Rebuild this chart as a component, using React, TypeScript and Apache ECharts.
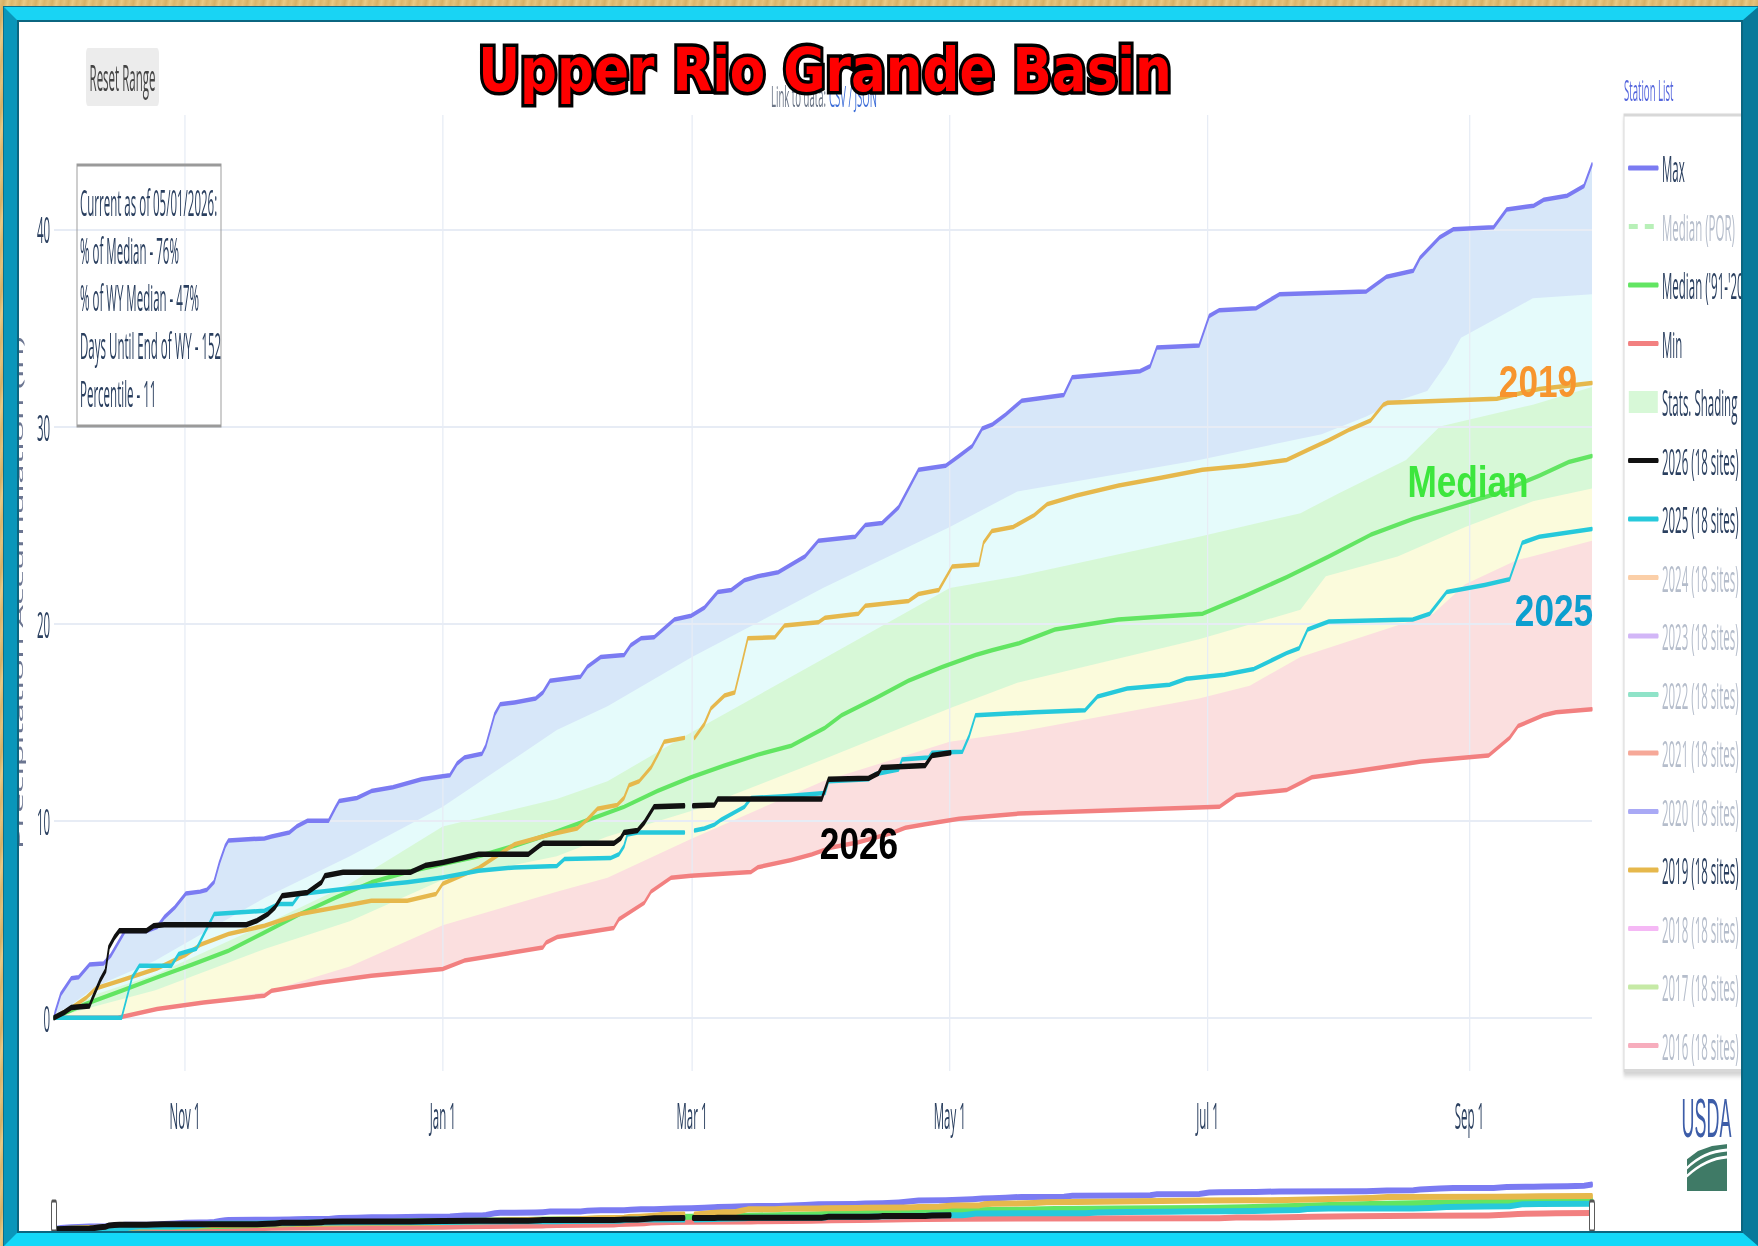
import React, { useEffect, useRef } from 'react';
import * as echarts from 'echarts';

// ---- page geometry (the reference is a vertically stretched Plotly chart:
// we draw the chart wide and squeeze it horizontally) ----
const PAGE_W = 1758;
const PAGE_H = 1246;
const INNER_W = 5494;
const SX = PAGE_W / INNER_W;
const ix = (f: number) => f / SX;

const PLOT_L = 54, PLOT_R = 1592, PLOT_T = 115, PLOT_B = 1071;
const NAV_T = 1182, NAV_B = 1232;
const Y_MIN = -2.7, Y_MAX = 45.8;
const X_MAX = 364;

// ---- axes ----
const MONTH_TICKS = [31, 92, 151, 212, 273, 335];
const MONTH_LABELS = ['Nov 1', 'Jan 1', 'Mar 1', 'May 1', 'Jul 1', 'Sep 1'];
const Y_TICKS = [0, 10, 20, 30, 40];

const INFO_LINES = [
  'Current as of 05/01/2026:',
  '% of Median - 76%',
  '% of WY Median - 47%',
  'Days Until End of WY - 152',
  'Percentile - 11',
];

// ---- data: [day of water year (0 = Oct 1), inches] ----
const MAX_PTS = [
  [0, 0], [0.3, 0.3], [1.6, 1.2], [4.1, 2.0], [5.8, 2.05], [8.4, 2.7], [11.7, 2.75], [13.4, 3.15],
  [16.8, 4.4], [21.9, 4.4], [24.4, 4.6], [26.1, 5.1], [28.6, 5.6], [31.2, 6.3], [34.6, 6.4], [36.2, 6.5],
  [37.9, 6.9], [39.2, 7.9], [40.5, 8.7], [41.3, 9.0], [49.8, 9.1], [51.5, 9.2], [55.7, 9.4], [57.4, 9.7],
  [60, 10.0], [65, 10.0], [66.7, 10.7], [67.5, 11.0], [71.7, 11.15], [75.1, 11.5], [80.2, 11.7], [83.6, 11.9],
  [87, 12.1], [93.7, 12.3], [95.4, 12.9], [97.1, 13.2], [101.3, 13.4], [102.2, 13.8], [104.3, 15.4],
  [105.6, 15.9], [109, 16.0], [114, 16.2], [115.7, 16.5], [117.4, 17.1], [124.6, 17.3], [126.2, 17.8],
  [129.4, 18.3], [134.9, 18.4], [136.5, 18.9], [138.9, 19.25], [142, 19.3], [146.8, 20.2], [150.8, 20.4],
  [153.9, 20.8], [156.3, 21.4], [157.1, 21.6], [160.3, 21.7], [163.4, 22.2], [166.6, 22.4], [171.4, 22.6],
  [177.7, 23.4], [180.9, 24.2], [189.6, 24.4], [192, 25.0], [196, 25.1], [199.9, 25.9], [204.6, 27.8],
  [211, 28.0], [214.2, 28.5], [217.3, 29.0], [219.7, 29.9], [222.1, 30.1], [225.2, 30.6], [229, 31.3],
  [239, 31.6], [241, 32.5], [257, 32.8], [259.4, 33.05], [261, 34.0], [271, 34.1], [273.4, 35.6],
  [275.8, 35.9], [284.5, 36.0], [290, 36.7], [310.6, 36.85], [315.4, 37.6], [321.7, 37.9], [323.3, 38.55],
  [328, 39.6], [331.2, 40.0], [340.7, 40.1], [343.8, 41.0], [350.2, 41.2], [352.6, 41.5], [358.1, 41.7],
  [362.1, 42.2], [364, 43.3],
];

const MIN_PTS = [
  [0, 0], [15.1, 0.0], [24.4, 0.44], [35.4, 0.78], [49.8, 1.12], [51.5, 1.37], [63.3, 1.79], [75.1, 2.13],
  [92, 2.47], [97.1, 2.9], [115.7, 3.57], [116.5, 3.82], [119.1, 4.1], [132.5, 4.56], [133.7, 5.0],
  [139.7, 5.83], [141.3, 6.4], [146, 7.1], [150.8, 7.2], [165, 7.4], [166.6, 7.64], [174.5, 8.0],
  [179.3, 8.28], [184, 8.64], [190.4, 8.9], [198.3, 9.37], [201.5, 9.64], [206.2, 9.82], [214.2, 10.1],
  [228.4, 10.36], [275.8, 10.7], [279.8, 11.3], [291.7, 11.55], [297.7, 12.2], [307.7, 12.5], [323.6, 13.0],
  [339.5, 13.3], [344.5, 14.2], [346.5, 14.8], [352.5, 15.35], [355.5, 15.5], [364, 15.65],
];

const MEDIAN_PTS = [
  [0, 0], [7.5, 0.7], [16, 1.37], [24.4, 2.05], [32.9, 2.72], [41.3, 3.4], [49.8, 4.33], [58.2, 5.26],
  [66.7, 6.1], [75.1, 6.87], [83.6, 7.4], [92, 7.8], [100.5, 8.2], [109, 8.73], [117.4, 9.32], [125.9, 10.0],
  [134.9, 10.7], [142.8, 11.5], [150.8, 12.2], [158.7, 12.8], [166.6, 13.35], [174.5, 13.8], [182.4, 14.7],
  [186.4, 15.35], [194.3, 16.2], [202.2, 17.1], [210.2, 17.8], [218.1, 18.4], [222, 18.65], [228.4, 19.0],
  [236.9, 19.7], [251.9, 20.2], [271.8, 20.5], [281.8, 21.4], [291.7, 22.35], [301.7, 23.4], [311.6, 24.5],
  [321.6, 25.3], [331.5, 25.95], [341.5, 26.6], [351.5, 27.5], [358.5, 28.2], [364, 28.5],
];

const P90_PTS = [
  [0, 0], [10, 1.6], [24, 2.9], [50, 6.1], [70, 8.2], [92, 10.7], [119, 14.6], [131, 15.8], [151, 18.3],
  [182, 21.8], [212, 24.9], [228, 26.7], [271, 28.3], [300, 29.6], [310.6, 30.5], [318, 31.3],
  [325, 31.8], [329.6, 33.2], [333, 34.5], [340.7, 35.4], [350, 36.5], [364, 36.7],
];

const P70_PTS = [
  [0, 0], [10, 1.2], [24, 2.2], [50, 4.75], [70, 6.8], [92, 9.7], [119, 11.1], [131, 12.0], [151, 14.5],
  [182, 18.2], [212, 21.8], [228, 22.4], [271, 24.4], [295, 25.6], [304, 26.6], [320, 28.3], [328, 30.0],
  [350, 31.1], [364, 32.0],
];

const P30_PTS = [
  [0, 0], [10, 0.6], [24, 1.4], [50, 3.5], [70, 4.9], [92, 7.0], [119, 8.2], [131, 9.2], [151, 10.5],
  [182, 13.1], [212, 15.7], [228, 17.0], [271, 19.2], [295, 20.7], [301, 22.4], [318, 23.4], [334, 24.9],
  [350, 26.2], [364, 26.85],
];

const P10_PTS = [
  [0, 0], [16, 0], [24, 0.5], [50, 1.3], [70, 2.6], [92, 4.7], [119, 6.4], [131, 7.1], [151, 9.1],
  [182, 12.0], [212, 14.0], [228, 14.5], [271, 16.2], [283, 16.85], [295, 18.3], [310.6, 19.4],
  [326.4, 20.5], [334, 22.0], [346, 23.2], [364, 24.2],
];

const Y2019_PTS = [
  [0, 0], [4.1, 0.5], [7.5, 1.0], [10, 1.5], [16, 1.9], [24.4, 2.5], [31.2, 3.2], [34.6, 3.7], [41.3, 4.25],
  [49.8, 4.67], [58.2, 5.26], [66.7, 5.6], [75.1, 5.94], [83.6, 5.94], [90.4, 6.28], [92, 6.8], [100.5, 7.6],
  [109, 8.8], [117.4, 9.3], [123.8, 9.6], [126.2, 10.05], [128.6, 10.6], [133.3, 10.8], [134.9, 11.15],
  [136.1, 11.8], [138.5, 12.0], [141.3, 12.7], [142.8, 13.3], [144.4, 14.0], [149.2, 14.2], [150.4, null],
  [151.6, 14.2], [153.9, 14.9], [155.5, 15.7], [158.7, 16.35], [161.1, 16.5], [162.6, 17.8], [164.2, 19.25],
  [170.6, 19.3], [172.9, 19.9], [180.9, 20.06], [182.5, 20.3], [190.4, 20.5], [192, 20.9], [202.3, 21.15],
  [204.6, 21.5], [209.4, 21.7], [212.6, 22.9], [218.9, 23.0], [220, 24.1], [222, 24.7], [227, 24.9],
  [232, 25.5], [235, 26.05], [242, 26.5], [252, 27.0], [262, 27.4], [271.8, 27.8], [281.8, 28.0],
  [291.7, 28.3], [296.7, 28.8], [301.7, 29.3], [306.7, 29.85], [311.6, 30.3], [314.6, 31.1], [315.6, 31.2],
  [341.5, 31.4], [351.5, 31.9], [364, 32.2],
];

const Y2025_PTS = [
  [0, 0], [16, 0], [18.5, 2.05], [20.2, 2.64], [27.8, 2.64], [29.5, 3.23], [33.7, 3.5], [37.9, 5.26],
  [49.8, 5.43], [53.2, 5.77], [56.5, 5.77], [58.2, 6.28], [65, 6.45], [75.1, 6.7], [83.6, 6.87], [92, 7.12],
  [100.5, 7.46], [109, 7.63], [119, 7.7], [120.8, 8.05], [131.7, 8.1], [133.7, 8.3], [134.9, 8.7],
  [135.7, 9.3], [138.1, 9.4], [149.2, 9.4], [150.4, null], [151.6, 9.5], [153.9, 9.6], [156.3, 9.8],
  [157.9, 10.05], [163.4, 10.7], [165, 11.15], [172.9, 11.24], [182.5, 11.4], [183.3, 12.0], [192.8, 12.1],
  [194.3, 12.35], [199.9, 12.6], [200.7, 13.1], [207, 13.2], [207.8, 13.45], [215, 13.5], [216.6, 14.3],
  [218.1, 15.35], [232, 15.5], [244, 15.6], [247, 16.3], [254, 16.7], [264, 16.9], [268, 17.2], [277, 17.4],
  [284, 17.7], [291.7, 18.5], [294.7, 18.75], [296.7, 19.7], [301.7, 20.1], [321.6, 20.2], [325.6, 20.5],
  [329.6, 21.6], [338.6, 21.95], [344.5, 22.25], [347.5, 24.1], [351.5, 24.4], [364, 24.8],
];

const Y2026_PTS = [
  [0, 0], [2.4, 0.27], [4.1, 0.52], [8.4, 0.6], [9.2, 1.03], [10.9, 1.88], [12.2, 2.39], [13, 3.57],
  [14.3, 4.08], [15.5, 4.42], [21.9, 4.42], [23.6, 4.67], [26.1, 4.72], [45.5, 4.72], [48, 4.92],
  [50.6, 5.26], [52.3, 5.6], [54, 6.19], [60, 6.36], [63.3, 6.87], [64.1, 7.2], [68.4, 7.38], [84.4, 7.38],
  [87.8, 7.72], [92, 7.88], [100.5, 8.3], [112.3, 8.3], [114.9, 8.73], [115.7, 8.85], [132.5, 8.85],
  [134.1, 9.1], [134.9, 9.4], [138.1, 9.5], [139.7, 9.9], [142, 10.7], [149.2, 10.76], [150.4, null],
  [151.2, 10.76], [156.3, 10.8], [157.1, 11.1], [181.7, 11.1], [183.3, 12.1], [192.8, 12.15], [195.1, 12.4],
  [195.9, 12.7], [206.2, 12.8], [207.8, 13.3], [212.2, 13.45],
];

// ---- colours ----
const GRID_COLOR = '#e7ecf5';
const FONT = "'Open Sans', 'DejaVu Sans', sans-serif";
const TEXT_COLOR = '#2a3f5f';
const FADED_TEXT = '#b5bdcb';

const C_MAX = '#7b7bf2';
const C_MED = '#62e562';
const C_MIN = '#f28080';
const C_2026 = '#111111';
const C_2025 = '#26c9db';
const C_2019 = '#e6b84c';

const BAND_BLUE = '#d7e7f9';
const BAND_CYAN = '#e5fbfb';
const BAND_GREEN = '#d7f8d7';
const BAND_YELLOW = '#fbfbdc';
const BAND_PINK = '#fbdfdf';

const FADED_SERIES = [
  { name: '2024 (18 sites)', color: '#fbcfa8' },
  { name: '2023 (18 sites)', color: '#d2b6f7' },
  { name: '2022 (18 sites)', color: '#8fe3c8' },
  { name: '2021 (18 sites)', color: '#f6a898' },
  { name: '2020 (18 sites)', color: '#a9a9f5' },
  { name: '2018 (18 sites)', color: '#f5b8f5' },
  { name: '2017 (18 sites)', color: '#c6eaa6' },
  { name: '2016 (18 sites)', color: '#f7adbd' },
];

const WOOD =
  'repeating-linear-gradient(100deg, #e2c07a 0px, #d6b066 4px, #e9ca86 8px, #dbb56c 12px, #e4c37e 16px)';

function area(name: string, data: any[], color: string, extra: any = {}) {
  return {
    name,
    type: 'line',
    data,
    xAxisIndex: 0,
    yAxisIndex: 0,
    symbol: 'none',
    showSymbol: false,
    silent: true,
    z: 1,
    color,
    lineStyle: { width: 0, color },
    areaStyle: { color, opacity: 1 },
    emphasis: { disabled: true },
    ...extra,
  };
}

function line(name: string, data: any[], color: string, width: number, nav = false, extra: any = {}) {
  return {
    name,
    type: 'line',
    data,
    xAxisIndex: nav ? 1 : 0,
    yAxisIndex: nav ? 1 : 0,
    symbol: 'none',
    showSymbol: false,
    silent: true,
    connectNulls: false,
    z: 3,
    color,
    lineStyle: { color, width, join: 'round', cap: 'round' },
    emphasis: { disabled: true },
    ...extra,
  };
}

function bigLabel(text: string, cx: number, cy: number, color: string) {
  return {
    type: 'text',
    x: ix(cx),
    y: cy,
    scaleX: 0.8 / SX,
    z: 60,
    silent: true,
    style: {
      text,
      fontFamily: "'Liberation Sans', Arial, sans-serif",
      fontWeight: 'bold',
      fontSize: 44,
      fill: color,
      textAlign: 'center',
      textVerticalAlign: 'middle',
    },
  };
}

function buildOption() {
  const gridMarks = [
    ...Y_TICKS.map((v) => ({ yAxis: v, lineStyle: { color: GRID_COLOR, width: 2, type: 'solid' } })),
    ...MONTH_TICKS.map((d) => ({ xAxis: d, lineStyle: { color: GRID_COLOR, width: 4, type: 'solid' } })),
  ];

  const series: any[] = [
    area('_band_max', MAX_PTS, BAND_BLUE),
    area('_band_p90', P90_PTS, BAND_CYAN),
    area('Stats. Shading', P70_PTS, BAND_GREEN),
    area('_band_p30', P30_PTS, BAND_YELLOW),
    area('_band_p10', P10_PTS, BAND_PINK),
    area('_band_min', MIN_PTS, '#ffffff', {
      markLine: {
        z: 1.5,
        silent: true,
        symbol: ['none', 'none'],
        label: { show: false },
        emphasis: { disabled: true },
        data: gridMarks,
      },
    }),
    line('Max', MAX_PTS, C_MAX, 4.5),
    line('Median (POR)', [], '#b8f0b8', 4, false, { lineStyle: { color: '#b8f0b8', width: 4, type: [28, 22] } }),
    line("Median ('91-'20)", MEDIAN_PTS, C_MED, 4.5),
    line('Min', MIN_PTS, C_MIN, 4.5),
    line('2019 (18 sites)', Y2019_PTS, C_2019, 4.5),
    line('2025 (18 sites)', Y2025_PTS, C_2025, 4.5),
    line('2026 (18 sites)', Y2026_PTS, C_2026, 5.5),
    ...FADED_SERIES.map((f) => line(f.name, [], f.color, 4)),
    // range-slider thumbnail
    line('Max', MAX_PTS, C_MAX, 6, true),
    line('Min', MIN_PTS, C_MIN, 6, true),
    line("Median ('91-'20)", MEDIAN_PTS, C_MED, 6, true),
    line('2019 (18 sites)', Y2019_PTS, C_2019, 6, true),
    line('2025 (18 sites)', Y2025_PTS, C_2025, 6, true),
    line('2026 (18 sites)', Y2026_PTS, C_2026, 6, true),
  ];

  const legendData: any[] = [
    { name: 'Max' },
    { name: 'Median (POR)', textStyle: { color: FADED_TEXT } },
    { name: "Median ('91-'20)" },
    { name: 'Min' },
    { name: 'Stats. Shading', icon: 'rect', itemStyle: { color: BAND_GREEN, opacity: 1 } },
    { name: '2026 (18 sites)' },
    { name: '2025 (18 sites)' },
    ...FADED_SERIES.slice(0, 5).map((f) => ({ name: f.name, textStyle: { color: FADED_TEXT } })),
    { name: '2019 (18 sites)' },
    ...FADED_SERIES.slice(5).map((f) => ({ name: f.name, textStyle: { color: FADED_TEXT } })),
  ];

  const labelFont = { fontFamily: FONT, fontSize: 36, color: TEXT_COLOR };

  const graphics: any[] = [
    // Reset Range button
    {
      type: 'rect', z: 50, silent: true,
      shape: { x: ix(86), y: 48, width: 73 / SX, height: 58, r: 6 },
      style: { fill: '#ececec' },
    },
    {
      type: 'text', z: 51, silent: true, x: ix(122.5), y: 77,
      style: { text: 'Reset Range', fontFamily: FONT, fontSize: 36, fill: '#444', textAlign: 'center', textVerticalAlign: 'middle' },
    },
    // info box
    {
      type: 'rect', z: 50, silent: true,
      shape: { x: ix(77), y: 165, width: 144 / SX, height: 261 },
      style: { fill: 'rgba(255,255,255,0)', stroke: '#9a9a9a', lineWidth: 3 },
    },
    ...INFO_LINES.map((t, i) => ({
      type: 'text', z: 51, silent: true, x: ix(80), y: 202 + i * 47.6,
      style: { text: t, fontFamily: FONT, fontSize: 36, fill: TEXT_COLOR, textAlign: 'left', textVerticalAlign: 'middle' },
    })),
    // link to data
    {
      type: 'text', z: 40, silent: true, x: ix(771), y: 96,
      style: { text: 'Link to data:', fontFamily: FONT, fontSize: 30, fill: '#6d7788', textAlign: 'left', textVerticalAlign: 'middle' },
    },
    {
      type: 'text', z: 40, silent: true, x: ix(829), y: 96,
      style: { text: 'CSV / JSON', fontFamily: FONT, fontSize: 30, fill: '#3f6fd8', textAlign: 'left', textVerticalAlign: 'middle' },
    },
    // station list
    {
      type: 'text', z: 40, silent: true, x: ix(1624), y: 90,
      style: { text: 'Station List', fontFamily: FONT, fontSize: 30, fill: '#5566dd', textAlign: 'left', textVerticalAlign: 'middle' },
    },
    // title: black outline behind, red on top
    {
      type: 'text', z: 70, silent: true, x: ix(825), y: 70, scaleX: 0.86 / SX,
      style: {
        text: 'Upper Rio Grande Basin', fontFamily: "'DejaVu Sans', sans-serif", fontWeight: 'bold', fontSize: 60,
        fill: '#000', stroke: '#000', lineWidth: 7, textAlign: 'center', textVerticalAlign: 'middle',
        shadowBlur: 8, shadowColor: 'rgba(0,0,0,0.6)', shadowOffsetX: 1, shadowOffsetY: 2,
      },
    },
    {
      type: 'text', z: 71, silent: true, x: ix(825), y: 70, scaleX: 0.86 / SX,
      style: {
        text: 'Upper Rio Grande Basin', fontFamily: "'DejaVu Sans', sans-serif", fontWeight: 'bold', fontSize: 60,
        fill: '#ff0000', textAlign: 'center', textVerticalAlign: 'middle',
      },
    },
    // series annotations
    bigLabel('2019', 1538, 382, '#f7952e'),
    bigLabel('Median', 1468, 482, '#3de63d'),
    bigLabel('2025', 1554, 611, '#0c9fcf'),
    bigLabel('2026', 859, 844, '#000000'),
    // range slider handles
    {
      type: 'rect', z: 50, silent: true,
      shape: { x: ix(51.5), y: 1201, width: 5 / SX, height: 30, r: 3 },
      style: { fill: '#fff', stroke: '#555', lineWidth: 3 },
    },
    {
      type: 'rect', z: 50, silent: true,
      shape: { x: ix(1589.5), y: 1201, width: 5 / SX, height: 30, r: 3 },
      style: { fill: '#fff', stroke: '#555', lineWidth: 3 },
    },
    // USDA logo
    {
      type: 'text', z: 50, silent: true, x: ix(1706.5), y: 1117,
      style: { text: 'USDA', fontFamily: "'Liberation Sans', Arial, sans-serif", fontSize: 56, fill: '#3d5da8', textAlign: 'center', textVerticalAlign: 'middle' },
    },
    {
      type: 'rect', z: 50, silent: true,
      shape: { x: ix(1687), y: 1142, width: 40 / SX, height: 49 },
      style: { fill: '#3f7a66' },
    },
    {
      type: 'polygon', z: 51, silent: true,
      shape: { points: [[ix(1686), 1141], [ix(1728), 1141], [ix(1728), 1144], [ix(1712), 1146], [ix(1698), 1151], [ix(1686), 1160]] },
      style: { fill: '#ffffff' },
    },
    {
      type: 'bezierCurve', z: 51, silent: true,
      shape: { x1: ix(1687), y1: 1168, cpx1: ix(1699), cpy1: 1156, cpx2: ix(1713), cpy2: 1151, x2: ix(1727), y2: 1150 },
      style: { stroke: '#ffffff', lineWidth: 3, fill: null },
    },
    {
      type: 'bezierCurve', z: 51, silent: true,
      shape: { x1: ix(1687), y1: 1176, cpx1: ix(1701), cpy1: 1163, cpx2: ix(1715), cpy2: 1158, x2: ix(1727), y2: 1157 },
      style: { stroke: '#ffffff', lineWidth: 3, fill: null },
    },
  ];

  return {
    animation: false,
    backgroundColor: 'transparent',
    textStyle: { fontFamily: FONT },
    grid: [
      { left: ix(PLOT_L), right: INNER_W - ix(PLOT_R), top: PLOT_T, bottom: PAGE_H - PLOT_B },
      { left: ix(PLOT_L), right: INNER_W - ix(PLOT_R), top: NAV_T, bottom: PAGE_H - NAV_B },
    ],
    xAxis: [
      {
        type: 'value', gridIndex: 0, min: 0, max: X_MAX,
        axisLine: { show: false }, axisTick: { show: false }, splitLine: { show: false },
        axisLabel: {
          ...labelFont,
          margin: 26,
          customValues: MONTH_TICKS,
          formatter: (v: number) => {
            const i = MONTH_TICKS.indexOf(v);
            return i >= 0 ? MONTH_LABELS[i] : '';
          },
        },
      },
      { type: 'value', gridIndex: 1, min: 0, max: X_MAX, show: false },
    ],
    yAxis: [
      {
        type: 'value', gridIndex: 0, min: Y_MIN, max: Y_MAX, splitNumber: 5,
        axisLine: { show: false }, axisTick: { show: false }, splitLine: { show: false },
        axisLabel: {
          ...labelFont,
          margin: 12,
          customValues: Y_TICKS,
          formatter: (v: number) => (Y_TICKS.indexOf(v) >= 0 ? String(v) : ''),
        },
        name: 'Precipitation Accumulation (in)',
        nameLocation: 'middle',
        nameGap: 92,
        nameTextStyle: { fontFamily: FONT, fontSize: 36, color: '#6b7591' },
      },
      { type: 'value', gridIndex: 1, min: Y_MIN, max: Y_MAX, show: false },
    ],
    legend: {
      orient: 'vertical',
      left: ix(1624),
      top: 115,
      padding: [35, 300, 7, 12.5],
      itemGap: 22.5,
      itemWidth: 29 / SX,
      itemHeight: 22,
      selectedMode: false,
      backgroundColor: '#ffffff',
      borderColor: '#d8d8d8',
      borderWidth: 3,
      shadowColor: 'rgba(0,0,0,0.18)',
      shadowBlur: 5,
      shadowOffsetY: 4,
      itemStyle: { opacity: 0 },
      lineStyle: { width: 5 },
      textStyle: { fontFamily: FONT, fontSize: 36, lineHeight: 36, color: TEXT_COLOR, padding: [0, 0, 0, 8] },
      data: legendData,
    },
    graphic: { elements: graphics },
    series,
  };
}

export default function App() {
  const ref = useRef<HTMLDivElement>(null);

  useEffect(() => {
    if (!ref.current) return;
    const chart = echarts.init(ref.current, undefined, { renderer: 'svg' });
    chart.setOption(buildOption() as any);
    return () => chart.dispose();
  }, []);

  return (
    <div
      style={{
        position: 'fixed', left: 0, top: 0, width: PAGE_W, height: PAGE_H,
        overflow: 'hidden', background: WOOD,
      }}
    >
      <div style={{ position: 'absolute', left: 17, top: 20, width: 1726, height: 1213, background: '#ffffff' }} />
      <div
        ref={ref}
        style={{
          position: 'absolute', left: 0, top: 0, width: INNER_W, height: PAGE_H,
          transform: `scaleX(${SX})`, transformOrigin: '0 0',
        }}
      />
      <div
        style={{
          position: 'absolute', left: 4, top: 7, width: 1754, height: 1239, boxSizing: 'border-box',
          borderStyle: 'solid', borderWidth: '13px 15px 13px 13px',
          borderColor: '#19d4f4 #08799a #14d8f8 #0a96ba',
          boxShadow: 'inset 0 0 0 2px #0b6680, 0 0 0 1px #0a6f8c',
          pointerEvents: 'none',
        }}
      />
    </div>
  );
}
